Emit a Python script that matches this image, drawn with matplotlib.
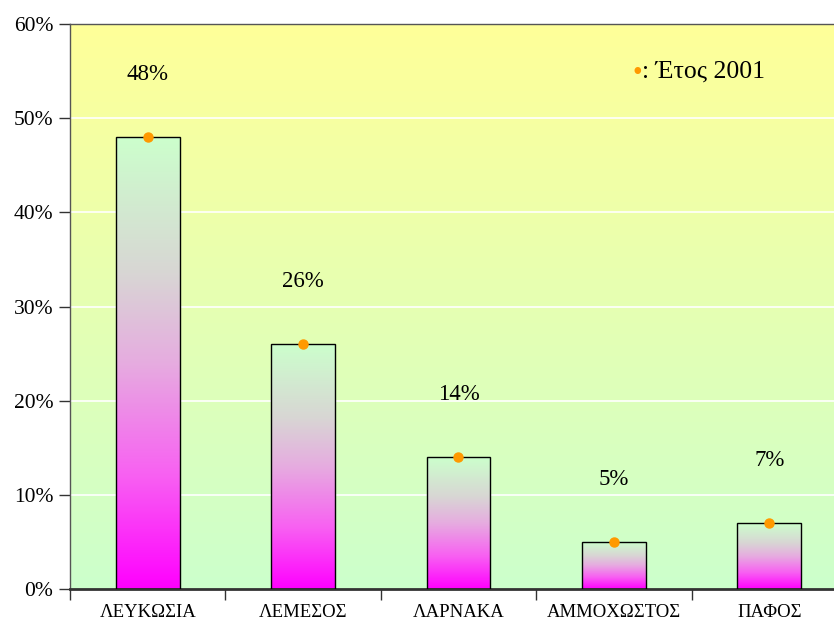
import matplotlib
matplotlib.use("Agg")
import matplotlib.pyplot as plt
import numpy as np
from matplotlib.colors import LinearSegmentedColormap
from matplotlib.ticker import FixedLocator, FixedFormatter

# data
districts = ["ΛΕΥΚΩΣΙΑ", "ΛΕΜΕΣΟΣ", "ΛΑΡΝΑΚΑ", "ΑΜΜΟΧΩΣΤΟΣ", "ΠΑΦΟΣ"]
shares = [48, 26, 14, 5, 7]
legend_label = ": Έτος 2001"

plt.rcParams["font.family"] = ["Liberation Serif", "DejaVu Serif"]

fig = plt.figure(figsize=(8.34, 6.24), dpi=100)
ax = fig.add_axes([70/834, 35/624, 777/834, 565/624])

n = len(districts)
ax.set_xlim(0, n)
ax.set_ylim(0, 60)

# background gradient: yellow at top -> pale green at bottom
bg = LinearSegmentedColormap.from_list("bg", ["#ccffcc", "#ffff99"])
grad = np.linspace(0, 1, 256).reshape(-1, 1)
ax.imshow(grad, cmap=bg, origin="lower", extent=[0, n, 0, 60],
          aspect="auto", zorder=0)

# white gridlines
for y in range(10, 60, 10):
    ax.axhline(y, color="white", lw=1.2, zorder=1)

# bars with vertical gradient magenta -> pale green
barcm = LinearSegmentedColormap.from_list(
    "bar", [(0.0, "#ff00ff"), (0.25, "#f860f2"), (0.5, "#e6ace0"),
            (0.7, "#d8d6d4"), (1.0, "#ccffcc")])
w = 0.41
for i, v in enumerate(shares):
    xc = i + 0.5
    ax.imshow(grad, cmap=barcm, origin="lower",
              extent=[xc - w/2, xc + w/2, 0, v], aspect="auto", zorder=2)
    ax.add_patch(plt.Rectangle((xc - w/2, 0), w, v, fill=False,
                               edgecolor="black", lw=1, zorder=3))
    ax.plot(xc, v, "o", color="#ff9900", ms=6.5, zorder=4, clip_on=False)
    ax.annotate(f"{v}%", (xc, v), xytext=(0, 45), textcoords="offset points",
                ha="center", va="center", fontsize=16.5)

# legend-like text
ax.text(0.736, 0.913, "•", transform=ax.transAxes, color="#ff9900",
        fontsize=20, ha="right", va="center")
ax.text(0.736, 0.915, legend_label, transform=ax.transAxes,
        fontsize=18.5, ha="left", va="center")

# axes styling
ax.set_yticks(range(0, 61, 10))
ax.set_yticklabels([f"{t}%" for t in range(0, 61, 10)], fontsize=15.5)
ax.xaxis.set_major_locator(FixedLocator(range(0, n + 1)))
ax.xaxis.set_major_formatter(FixedFormatter([""] * (n + 1)))
ax.xaxis.set_minor_locator(FixedLocator([i + 0.5 for i in range(n)]))
ax.xaxis.set_minor_formatter(FixedFormatter(districts))
ax.tick_params(axis="x", which="major", length=8, width=1, color="#333333")
ax.tick_params(axis="x", which="minor", length=0, pad=11, labelsize=13.5)
ax.tick_params(axis="y", length=8, width=1, color="#333333", pad=4)
for side in ["left", "top"]:
    ax.spines[side].set_color("#555555")
    ax.spines[side].set_linewidth(1)
ax.spines["bottom"].set_color("#333333")
ax.spines["bottom"].set_linewidth(2)
ax.spines["right"].set_visible(False)

plt.savefig("out.png", dpi=100, facecolor="white")
